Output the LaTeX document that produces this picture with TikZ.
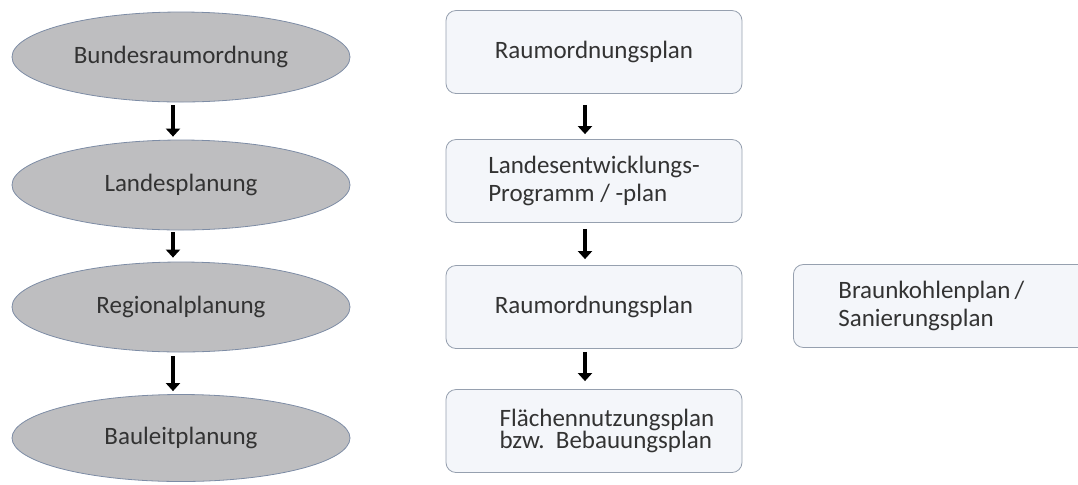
\documentclass[tikz,border=0pt]{standalone}
\usepackage{fontspec}
\setmainfont{Carlito}
\usetikzlibrary{shapes.geometric,arrows.meta}
\definecolor{ovalgray}{RGB}{190,190,192}
\definecolor{ovalline}{RGB}{125,140,165}
\definecolor{boxfill}{RGB}{244,246,250}
\definecolor{boxline}{RGB}{150,160,175}
\tikzset{
  level/.style={ellipse, draw=ovalline, fill=ovalgray, minimum width=169pt,
    minimum height=45pt, inner sep=0pt, text=black!80,
    font=\fontsize{12.5}{14}\selectfont},
  plan/.style={draw=boxline, fill=boxfill, rounded corners=5pt,
    minimum width=148pt, minimum height=41.5pt, inner sep=0pt, align=left,
    text=black!80, font=\fontsize{12.5}{14.2}\selectfont},
  flow/.style={line width=2.2pt, -{Triangle[length=4pt,width=7pt]}}
}
\begin{document}
\begin{tikzpicture}[x=0.5pt,y=-0.5pt]
    \useasboundingbox (0,0) rectangle (1078,484);

    % Planning levels (left)
    \node[level] (bund) at (181,57) {Bundesraumordnung};
    \node[level] (land) at (181,185) {Landesplanung};
    \node[level] (regio) at (181,307) {Regionalplanung};
    \node[level, minimum height=43.5pt] (bau) at (181,438) {Bauleitplanung};

    \draw[flow] ([xshift=-4pt,yshift=-1.5pt]bund.south) -- ([xshift=-4pt,yshift=1.5pt]land.north);
    \draw[flow] ([xshift=-4pt,yshift=-1pt]land.south) -- ([xshift=-4pt,yshift=2pt]regio.north);
    \draw[flow] ([xshift=-4pt,yshift=-2pt]regio.south) -- ([xshift=-4pt,yshift=1.5pt]bau.north);

    % Plans (middle)
    \node[plan] (rop) at (594,52) {Raumordnungsplan};
    \node[plan] (lep) at (594,181) {Landesentwicklungs-\\Programm / -plan};
    \node[plan] (rrop) at (594,307) {Raumordnungsplan};
    \node[plan, font=\fontsize{12.5}{11.2}\selectfont] (flp) at (594,431)
        {\hspace*{13pt}Flächennutzungsplan\\\hspace*{13pt}bzw.\ \ Bebauungsplan};

    \draw[flow] ([xshift=-4.5pt,yshift=-5.5pt]rop.south) -- ([xshift=-4.5pt,yshift=2.5pt]lep.north);
    \draw[flow] ([xshift=-4.5pt,yshift=-3pt]lep.south) -- ([xshift=-4.5pt,yshift=3pt]rrop.north);
    \draw[flow] ([xshift=-4.5pt,yshift=-1.5pt]rrop.south) -- ([xshift=-4.5pt,yshift=4pt]flp.north);

    % Special plans (right, cut at the edge)
    \node[plan, anchor=west, minimum width=0pt, text width=130pt,
        inner xsep=22.5pt] (bkp) at (793,306) {Braunkohlenplan\kern2pt/\\Sanierungsplan};
\end{tikzpicture}
\end{document}
